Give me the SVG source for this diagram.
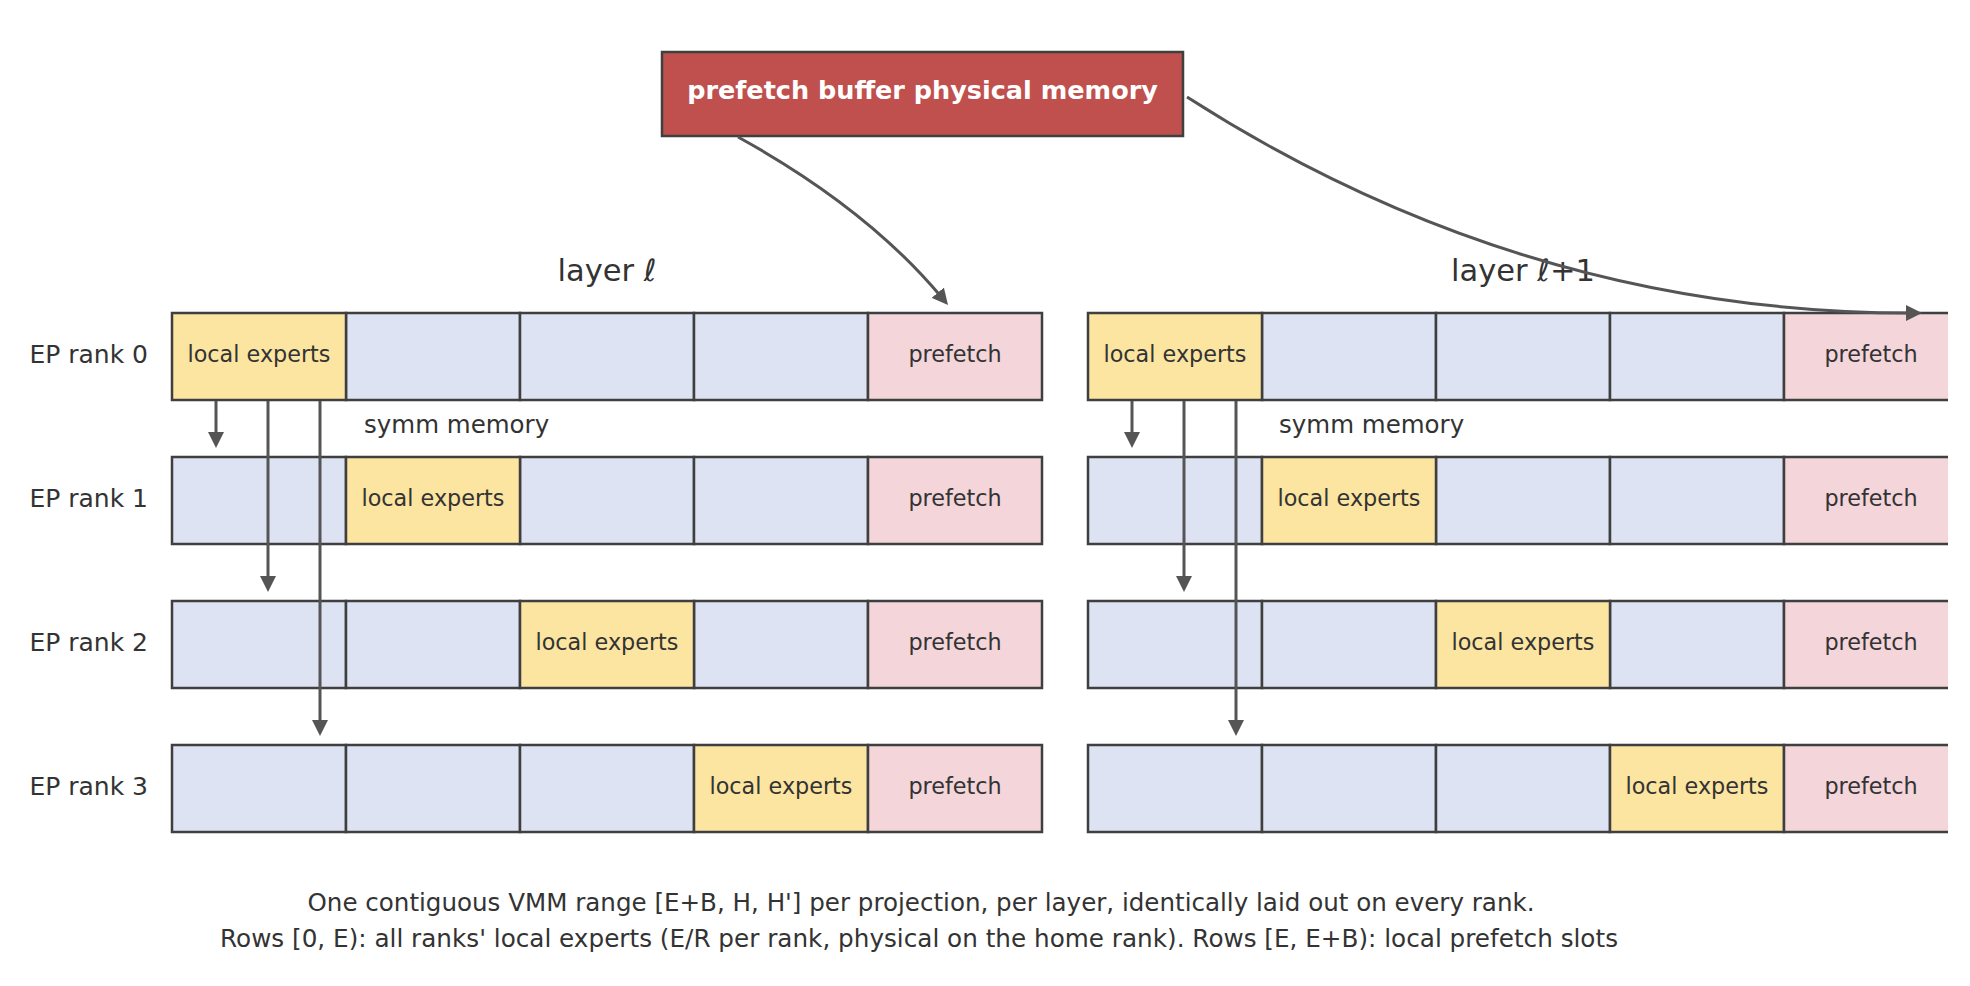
<svg xmlns="http://www.w3.org/2000/svg" width="1970" height="986" viewBox="0 0 1970 986">
<style>
text{font-family:"DejaVu Sans","Liberation Sans",sans-serif;fill:#333}
.loc{fill:#fbe5a1;stroke:#3f3f3f;stroke-width:2.5}
.oth{fill:#dde3f2;stroke:#3f3f3f;stroke-width:2.5}
.pre{fill:#f3d5da;stroke:#3f3f3f;stroke-width:2.5}
.ct{font-size:22.3px;text-anchor:middle;dominant-baseline:central}
.rl{font-size:25px;text-anchor:end;dominant-baseline:central}
.ttl{font-size:30.5px;text-anchor:middle}
.sym{font-size:24.5px}
.cap{font-size:24.6px;text-anchor:middle}
.arr{fill:none;stroke:#555;stroke-width:3;marker-end:url(#ah)}
</style>
<defs>
<marker id="ah" markerUnits="userSpaceOnUse" markerWidth="16" markerHeight="16" refX="6" refY="8" orient="auto" viewBox="0 0 16 16">
<path d="M0,0 L16,8 L0,16 z" fill="#555"/>
</marker>
<clipPath id="crop"><rect x="0" y="0" width="1948" height="986"/></clipPath>
</defs>
<rect width="1970" height="986" fill="#fff"/>

<g id="title-left"><text class="ttl" x="607" y="281">layer <tspan font-style="italic">ℓ</tspan></text></g>
<g id="title-right"><text class="ttl" x="1523" y="281">layer <tspan font-style="italic">ℓ</tspan>+1</text></g>

<g id="rank-labels">
<text class="rl" x="148" y="354">EP rank 0</text>
<text class="rl" x="148" y="498">EP rank 1</text>
<text class="rl" x="148" y="642">EP rank 2</text>
<text class="rl" x="148" y="786">EP rank 3</text>
</g>

<g id="left-block">
<g id="L-r0">
<rect class="oth" x="346" y="313" width="174" height="87"/><rect class="oth" x="520" y="313" width="174" height="87"/><rect class="oth" x="694" y="313" width="174" height="87"/>
<rect class="pre" x="868" y="313" width="174" height="87"/><text class="ct" x="955" y="354">prefetch</text>
<rect class="loc" x="172" y="313" width="174" height="87"/><text class="ct" x="259" y="354">local experts</text>
</g>
<g id="L-r1">
<rect class="oth" x="172" y="457" width="174" height="87"/><rect class="oth" x="520" y="457" width="174" height="87"/><rect class="oth" x="694" y="457" width="174" height="87"/>
<rect class="loc" x="346" y="457" width="174" height="87"/><text class="ct" x="433" y="498">local experts</text>
<rect class="pre" x="868" y="457" width="174" height="87"/><text class="ct" x="955" y="498">prefetch</text>
</g>
<g id="L-r2">
<rect class="oth" x="172" y="601" width="174" height="87"/><rect class="oth" x="346" y="601" width="174" height="87"/><rect class="oth" x="694" y="601" width="174" height="87"/>
<rect class="loc" x="520" y="601" width="174" height="87"/><text class="ct" x="607" y="642">local experts</text>
<rect class="pre" x="868" y="601" width="174" height="87"/><text class="ct" x="955" y="642">prefetch</text>
</g>
<g id="L-r3">
<rect class="oth" x="172" y="745" width="174" height="87"/><rect class="oth" x="346" y="745" width="174" height="87"/><rect class="oth" x="520" y="745" width="174" height="87"/>
<rect class="loc" x="694" y="745" width="174" height="87"/><text class="ct" x="781" y="786">local experts</text>
<rect class="pre" x="868" y="745" width="174" height="87"/><text class="ct" x="955" y="786">prefetch</text>
</g>
<text id="L-symm" class="sym" x="364" y="433">symm memory</text>
</g>

<g id="right-block" clip-path="url(#crop)">
<g id="R-r0">
<rect class="oth" x="1262" y="313" width="174" height="87"/><rect class="oth" x="1436" y="313" width="174" height="87"/><rect class="oth" x="1610" y="313" width="174" height="87"/>
<rect class="pre" x="1784" y="313" width="174" height="87"/><text class="ct" x="1871" y="354">prefetch</text>
<rect class="loc" x="1088" y="313" width="174" height="87"/><text class="ct" x="1175" y="354">local experts</text>
</g>
<g id="R-r1">
<rect class="oth" x="1088" y="457" width="174" height="87"/><rect class="oth" x="1436" y="457" width="174" height="87"/><rect class="oth" x="1610" y="457" width="174" height="87"/>
<rect class="loc" x="1262" y="457" width="174" height="87"/><text class="ct" x="1349" y="498">local experts</text>
<rect class="pre" x="1784" y="457" width="174" height="87"/><text class="ct" x="1871" y="498">prefetch</text>
</g>
<g id="R-r2">
<rect class="oth" x="1088" y="601" width="174" height="87"/><rect class="oth" x="1262" y="601" width="174" height="87"/><rect class="oth" x="1610" y="601" width="174" height="87"/>
<rect class="loc" x="1436" y="601" width="174" height="87"/><text class="ct" x="1523" y="642">local experts</text>
<rect class="pre" x="1784" y="601" width="174" height="87"/><text class="ct" x="1871" y="642">prefetch</text>
</g>
<g id="R-r3">
<rect class="oth" x="1088" y="745" width="174" height="87"/><rect class="oth" x="1262" y="745" width="174" height="87"/><rect class="oth" x="1436" y="745" width="174" height="87"/>
<rect class="loc" x="1610" y="745" width="174" height="87"/><text class="ct" x="1697" y="786">local experts</text>
<rect class="pre" x="1784" y="745" width="174" height="87"/><text class="ct" x="1871" y="786">prefetch</text>
</g>
<text id="R-symm" class="sym" x="1279" y="433">symm memory</text>
</g>

<g id="phys-mem">
<rect x="662" y="52" width="521" height="84" fill="#c0504d" stroke="#3f3f3f" stroke-width="2.5"/>
<text x="922.5" y="90" font-size="25.5" font-weight="bold" text-anchor="middle" dominant-baseline="central" style="fill:#fff">prefetch buffer physical memory</text>
</g>

<g id="connectors">
<path class="arr" d="M216,401 V438"/>
<path class="arr" d="M268,401 V582"/>
<path class="arr" d="M320,401 V726"/>
<path class="arr" d="M1132,401 V438"/>
<path class="arr" d="M1184,401 V582"/>
<path class="arr" d="M1236,401 V726"/>
<path class="arr" d="M738,137 Q867,208 941.6,297.3"/>
<path class="arr" d="M1187,97 Q1524,313 1912,313"/>
</g>

<g id="caption">
<text class="cap" x="921" y="911" textLength="1227" lengthAdjust="spacingAndGlyphs">One contiguous VMM range [E+B, H, H'] per projection, per layer, identically laid out on every rank.</text>
<text class="cap" x="919" y="947" textLength="1398" lengthAdjust="spacingAndGlyphs">Rows [0, E): all ranks' local experts (E/R per rank, physical on the home rank). Rows [E, E+B): local prefetch slots</text>
</g>
</svg>
